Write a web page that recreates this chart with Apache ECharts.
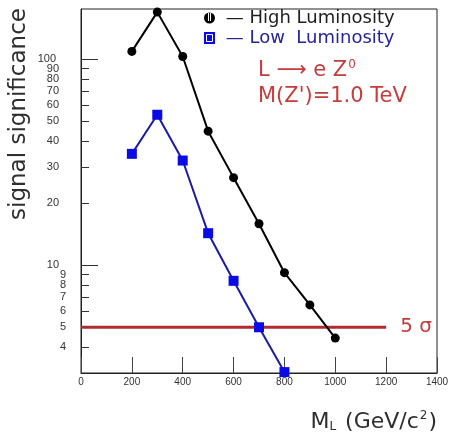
<!DOCTYPE html>
<html>
<head>
<meta charset="utf-8">
<script src="https://cdn.jsdelivr.net/npm/echarts@6/dist/echarts.min.js"></script>
<style>
  html, body { margin: 0; padding: 0; background: #fff; }
  #chart { width: 452px; height: 439px; }
</style>
</head>
<body>
<div id="chart"></div>
<script>
// Lepton mass points (GeV/c^2) and signal significance for both luminosity scenarios
const highMass = [200, 300, 400, 500, 600, 700, 800, 900, 1000];
const highLumi = [109, 169, 103, 44.7, 26.6, 15.9, 9.2, 6.42, 4.43];
const lowMass = [200, 300, 400, 500, 600, 700, 800];
const lowLumi = [34.7, 53.7, 32.2, 14.3, 8.4, 5.0, 3.03];

// 5 sigma discovery threshold, drawn across this mass range
const sigmaLevel = 5;
const sigmaMass = [0, 1200];

// Axis ranges and tick labels
const xRange = [0, 1400];
const xStep = 200;
const yRange = [3, 175];
const yTickLabels = [4, 5, 6, 7, 8, 9, 10, 20, 30, 40, 50, 60, 70, 80, 90, 100];
const yMajorTicks = [10, 100];

const seriesNames = ['High Luminosity', 'Low Luminosity'];

const FONT = 'DejaVu Sans';
const TICK_FONT = '"Liberation Sans Narrow", "Liberation Sans", Arial, sans-serif';
const RED = '#c43c3c';
const INK = '#2e2e2e';

const zip = (xs, ys) => xs.map((x, i) => [x, ys[i]]);
const log10 = v => Math.log10(v);
const minorTicks = yTickLabels.filter(v => yMajorTicks.indexOf(v) < 0);
// The tightly packed labels are shared between two helper axes, alternating,
// so neighbouring labels never compete on the same axis.
const labelsA = yTickLabels.filter((v, i) => i % 2 === 0);
const labelsB = yTickLabels.filter((v, i) => i % 2 === 1);

const tickText = (extra) => Object.assign({ fontFamily: TICK_FONT, fontSize: 11, color: '#333' }, extra);

// Tick label text; wider numbers sit a little further from the axis
const tickLabel = v => {
  const n = Math.round(Math.pow(10, v));
  if (n >= 100) return '{c|' + n + '}';
  if (n >= 10) return '{b|' + n + '}';
  return '{a|' + n + '}';
};
const tickLabelStyle = (values) => Object.assign(tickText({}), {
  customValues: values.map(log10),
  hideOverlap: false,
  showMinLabel: true, showMaxLabel: true,
  margin: 15,
  formatter: tickLabel,
  rich: {
    a: tickText({}),
    b: tickText({ padding: [0, 7, 0, 0] }),
    c: tickText({ padding: [0, 10, 0, 0] })
  }
});

const chart = echarts.init(document.getElementById('chart'), null, { renderer: 'canvas' });

chart.setOption({
  animation: false,
  backgroundColor: '#fff',
  grid: {
    left: 74, right: 15, top: 9, bottom: 66,
    show: true, borderColor: '#222', borderWidth: 1, backgroundColor: 'transparent'
  },
  legend: {
    orient: 'vertical',
    left: 204, top: 9, padding: 0,
    itemWidth: 11, itemHeight: 12, itemGap: 2,
    selectedMode: false,
    formatter: name => ' \u2014 ' + (name === seriesNames[1] ? 'Low  Luminosity' : name),
    textStyle: { fontFamily: FONT, fontSize: 18 },
    data: [
      { name: seriesNames[0], icon: 'circle', textStyle: { color: '#1e1e1e' } },
      { name: seriesNames[1], icon: 'rect', textStyle: { color: '#25259a' } }
    ]
  },
  xAxis: {
    type: 'value',
    min: xRange[0], max: xRange[1], interval: xStep,
    axisLine: { lineStyle: { color: '#222', width: 1 } },
    axisTick: { inside: true, length: 16, lineStyle: { color: '#444' } },
    splitLine: { show: false },
    axisLabel: { margin: 4, fontFamily: TICK_FONT, fontSize: 10, color: '#333', formatter: v => String(v) },
    name: '{m|M}{s|L}{m| (GeV/c}{p|2}{m|)}',
    nameLocation: 'end',
    nameGap: 0,
    nameTextStyle: {
      align: 'right', verticalAlign: 'top', padding: [37, 0, 0, 0],
      rich: {
        m: { fontFamily: FONT, fontSize: 22, color: INK },
        s: { fontFamily: FONT, fontSize: 12, color: INK, padding: [10, 2, 0, 0] },
        p: { fontFamily: FONT, fontSize: 12, color: INK, padding: [0, 1, 12, 1] }
      }
    }
  },
  yAxis: [
    {
      // data axis: logarithmic scale used by the series
      type: 'log', logBase: 10, position: 'left',
      min: yRange[0], max: yRange[1],
      axisLine: { show: true, lineStyle: { color: '#222', width: 1 } },
      axisTick: { show: false },
      axisLabel: { show: false },
      splitLine: { show: false },
      name: 'signal significance',
      nameLocation: 'middle',
      nameGap: 50,
      nameTextStyle: { fontFamily: FONT, fontSize: 23, color: INK, padding: [0, 0, 0, 154] }
    },
    {
      // minor ticks, plus every other label, in log10 space
      type: 'value', position: 'left',
      min: log10(yRange[0]), max: log10(yRange[1]),
      axisLine: { show: false },
      splitLine: { show: false },
      axisTick: { show: true, inside: true, length: 8, customValues: minorTicks.map(log10), lineStyle: { color: '#333' } },
      axisLabel: tickLabelStyle(labelsA)
    },
    {
      // longer decade ticks, plus the remaining labels
      type: 'value', position: 'left',
      min: log10(yRange[0]), max: log10(yRange[1]),
      axisLine: { show: false },
      splitLine: { show: false },
      axisTick: { show: true, inside: true, length: 17, customValues: yMajorTicks.map(log10), lineStyle: { color: '#333' } },
      axisLabel: tickLabelStyle(labelsB)
    }
  ],
  series: [
    {
      name: '5 sigma',
      type: 'line',
      yAxisIndex: 0,
      data: sigmaMass.map(x => [x, sigmaLevel]),
      showSymbol: false,
      silent: true,
      lineStyle: { color: '#b02a2e', width: 3 },
      endLabel: { show: true, formatter: '5 \u03c3', distance: 14, fontFamily: FONT, fontSize: 20, color: RED },
      z: 1
    },
    {
      name: seriesNames[0],
      type: 'line',
      yAxisIndex: 0,
      data: zip(highMass, highLumi),
      symbol: 'circle', symbolSize: 9,
      itemStyle: { color: '#000' },
      lineStyle: { color: '#000', width: 2 },
      z: 3
    },
    {
      name: seriesNames[1],
      type: 'line',
      yAxisIndex: 0,
      data: zip(lowMass, lowLumi),
      symbol: 'rect', symbolSize: 10,
      itemStyle: { color: '#0a0ae6' },
      lineStyle: { color: '#1c1ca0', width: 2 },
      z: 2
    }
  ],
  graphic: [
    // inner detail of the two legend keys
    { type: 'rect', z: 100, shape: { x: 208, y: 13, width: 3, height: 8 }, style: { fill: '#fff' } },
    { type: 'line', z: 101, shape: { x1: 209.5, y1: 13, x2: 209.5, y2: 21 }, style: { stroke: '#000', lineWidth: 1 } },
    { type: 'rect', z: 100, shape: { x: 206.5, y: 34.5, width: 6, height: 7 }, style: { fill: 'none', stroke: '#fff', lineWidth: 1 } },
    {
      type: 'text', left: 258, top: 59,
      style: {
        text: '{a|L \u27f6 e Z}{s|0}',
        rich: {
          a: { fontFamily: FONT, fontSize: 21, fill: RED },
          s: { fontFamily: FONT, fontSize: 12, fill: RED, padding: [0, 0, 12, 1] }
        }
      }
    },
    {
      type: 'text', left: 258, top: 86,
      style: { text: "M(Z')=1.0 TeV", font: '21px "DejaVu Sans"', fill: RED }
    }
  ]
});
</script>
</body>
</html>
